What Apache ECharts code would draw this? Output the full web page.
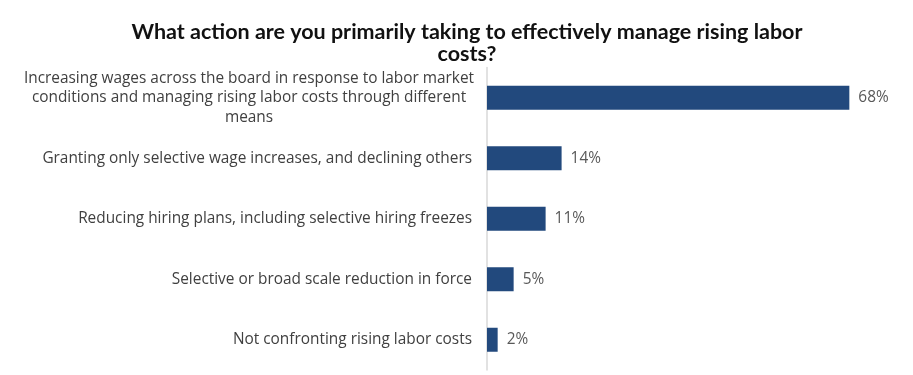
<!DOCTYPE html>
<html><head><meta charset="utf-8">
<script src="https://cdn.jsdelivr.net/npm/echarts@6/dist/echarts.min.js"></script>
<style>html,body{margin:0;padding:0;background:#fff}#c{width:913px;height:375px}</style>
</head><body><div id="c"></div>
<script>
var titleText = 'What action are you primarily taking to effectively manage rising labor\ncosts?';
var categories = [
  'Increasing wages across the board in response to labor market\nconditions and managing rising labor costs through different\nmeans',
  'Granting only selective wage increases, and declining others',
  'Reducing hiring plans, including selective hiring freezes',
  'Selective or broad scale reduction in force',
  'Not confronting rising labor costs'
];
var values = [68, 14, 11, 5, 2];

var chart = echarts.init(document.getElementById('c'));
chart.setOption({
  animation: false,
  title: {
    text: titleText,
    left: 462, top: 16, textAlign: 'center',
    textStyle: {fontFamily: 'Lato', fontWeight: 'bold', fontSize: 21.5, color: '#111', lineHeight: 22}
  },
  grid: {left: 487, right: 53, top: 67.5, bottom: 5, containLabel: false},
  xAxis: {type: 'value', min: 0, max: 70, show: false},
  yAxis: {
    type: 'category', inverse: true, data: categories,
    axisLine: {show: true, lineStyle: {color: '#d9d9d9', width: 1.5}},
    axisTick: {show: false},
    axisLabel: {
      margin: 15, fontFamily: 'Open Sans', fontSize: 15.4, color: '#404040', lineHeight: 19.5,
      formatter: function (v, i) {
        if (v.indexOf('\n') >= 0) {
          return v.split('\n').map(function (s) { return '{c|' + s + '}'; }).join('\n');
        }
        return v;
      },
      rich: {c: {width: 446, align: 'center', fontFamily: 'Open Sans', fontSize: 15.4, color: '#404040', lineHeight: 19.5}}
    }
  },
  series: [{
    type: 'bar', data: values, barWidth: 24,
    itemStyle: {color: '#22497d'},
    label: {show: true, position: 'right', distance: 9, formatter: '{c}%',
      fontFamily: 'Open Sans', fontSize: 15.4, color: '#595959'}
  }]
});
</script></body></html>
